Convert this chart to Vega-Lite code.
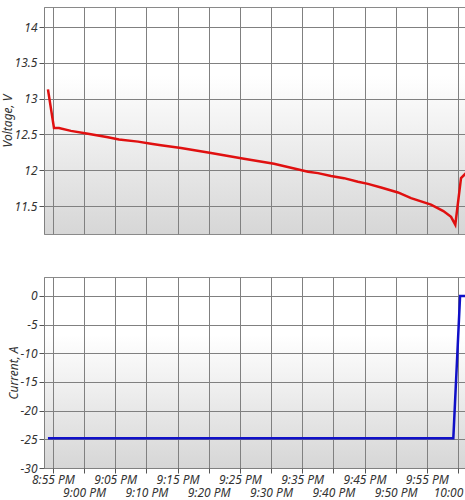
{
  "$schema": "https://vega.github.io/schema/vega-lite/v6.json",
  "padding": {"left": 0, "top": 6, "right": 0, "bottom": 0},
  "background": "#ffffff",
  "spacing": 41,
  "config": {
    "view": {"stroke": "#8a8a8a", "strokeWidth": 1,
      "fill": {"gradient": "linear", "x1": 0, "y1": 0, "x2": 0, "y2": 1,
        "stops": [{"offset": 0, "color": "#ffffff"}, {"offset": 0.3, "color": "#ffffff"}, {"offset": 1, "color": "#d6d6d6"}]}},
    "axis": {
      "labelFont": "Noto Sans", "labelFontStyle": "italic", "labelFontSize": 12, "labelColor": "#333333",
      "titleFont": "Noto Sans", "titleFontStyle": "italic", "titleFontWeight": "normal", "titleFontSize": 12, "titleColor": "#333333",
      "gridColor": "#808080", "gridWidth": 1, "gridOpacity": 1,
      "domainColor": "#808080", "tickColor": "#555555", "tickSize": 5
    }
  },
  "vconcat": [
    {
      "width": 422,
      "height": 227,
      "data": {"values": [
        {"time": "2020-01-01T20:54:12", "v": 13.13},
        {"time": "2020-01-01T20:55:10", "v": 12.59},
        {"time": "2020-01-01T20:55:58", "v": 12.59},
        {"time": "2020-01-01T20:57:53", "v": 12.55},
        {"time": "2020-01-01T21:00:37", "v": 12.51},
        {"time": "2020-01-01T21:03:50", "v": 12.46},
        {"time": "2020-01-01T21:05:36", "v": 12.43},
        {"time": "2020-01-01T21:08:39", "v": 12.40},
        {"time": "2020-01-01T21:10:44", "v": 12.37},
        {"time": "2020-01-01T21:12:20", "v": 12.35},
        {"time": "2020-01-01T21:15:33", "v": 12.31},
        {"time": "2020-01-01T21:20:22", "v": 12.24},
        {"time": "2020-01-01T21:25:39", "v": 12.16},
        {"time": "2020-01-01T21:30:28", "v": 12.09},
        {"time": "2020-01-01T21:35:56", "v": 11.98},
        {"time": "2020-01-01T21:37:32", "v": 11.96},
        {"time": "2020-01-01T21:39:37", "v": 11.92},
        {"time": "2020-01-01T21:41:42", "v": 11.89},
        {"time": "2020-01-01T21:43:57", "v": 11.84},
        {"time": "2020-01-01T21:45:33", "v": 11.81},
        {"time": "2020-01-01T21:47:39", "v": 11.76},
        {"time": "2020-01-01T21:50:22", "v": 11.69},
        {"time": "2020-01-01T21:52:28", "v": 11.61},
        {"time": "2020-01-01T21:55:40", "v": 11.52},
        {"time": "2020-01-01T21:57:39", "v": 11.43},
        {"time": "2020-01-01T21:58:53", "v": 11.35},
        {"time": "2020-01-01T21:59:34", "v": 11.24},
        {"time": "2020-01-01T22:00:29", "v": 11.89},
        {"time": "2020-01-01T22:01:17", "v": 11.96}
      ]},
      "mark": {"type": "line", "color": "#e01010", "strokeWidth": 2.5, "clip": true},
      "encoding": {
        "x": {
          "field": "time", "type": "temporal",
          "scale": {"domain": [
            {"year": 2020, "month": 1, "date": 1, "hours": 20, "minutes": 53, "seconds": 34},
            {"year": 2020, "month": 1, "date": 1, "hours": 22, "minutes": 1, "seconds": 17}
          ], "nice": false},
          "axis": {"title": null, "labels": false, "ticks": false, "domain": false,
            "values": [
              {"year": 2020, "month": 1, "date": 1, "hours": 20, "minutes": 55},
              {"year": 2020, "month": 1, "date": 1, "hours": 21, "minutes": 0},
              {"year": 2020, "month": 1, "date": 1, "hours": 21, "minutes": 5},
              {"year": 2020, "month": 1, "date": 1, "hours": 21, "minutes": 10},
              {"year": 2020, "month": 1, "date": 1, "hours": 21, "minutes": 15},
              {"year": 2020, "month": 1, "date": 1, "hours": 21, "minutes": 20},
              {"year": 2020, "month": 1, "date": 1, "hours": 21, "minutes": 25},
              {"year": 2020, "month": 1, "date": 1, "hours": 21, "minutes": 30},
              {"year": 2020, "month": 1, "date": 1, "hours": 21, "minutes": 35},
              {"year": 2020, "month": 1, "date": 1, "hours": 21, "minutes": 40},
              {"year": 2020, "month": 1, "date": 1, "hours": 21, "minutes": 45},
              {"year": 2020, "month": 1, "date": 1, "hours": 21, "minutes": 50},
              {"year": 2020, "month": 1, "date": 1, "hours": 21, "minutes": 55},
              {"year": 2020, "month": 1, "date": 1, "hours": 22, "minutes": 0}
            ]}
        },
        "y": {
          "field": "v", "type": "quantitative",
          "scale": {"domain": [11.11, 14.28], "nice": false, "zero": false},
          "axis": {"title": "Voltage, V", "values": [11.5, 12, 12.5, 13, 13.5, 14], "labelExpr": "'' + datum.value", "titlePadding": 0}
        }
      }
    },
    {
      "width": 422,
      "height": 191,
      "data": {"values": [
        {"time": "2020-01-01T20:54:12", "a": -24.8},
        {"time": "2020-01-01T21:59:15", "a": -24.8},
        {"time": "2020-01-01T22:00:20", "a": 0},
        {"time": "2020-01-01T22:01:17", "a": 0}
      ]},
      "mark": {"type": "line", "color": "#1010c8", "strokeWidth": 2.5, "clip": true},
      "encoding": {
        "x": {
          "field": "time", "type": "temporal",
          "scale": {"domain": [
            {"year": 2020, "month": 1, "date": 1, "hours": 20, "minutes": 53, "seconds": 34},
            {"year": 2020, "month": 1, "date": 1, "hours": 22, "minutes": 1, "seconds": 17}
          ], "nice": false},
          "axis": {"title": null, "domain": false, "format": "%-I:%M %p",
            "labelOverlap": false, "labelPadding": 1, "labelLineHeight": 13,
            "labelExpr": "minutes(datum.value) % 10 === 5 ? datum.label : ['', datum.label]",
            "values": [
              {"year": 2020, "month": 1, "date": 1, "hours": 20, "minutes": 55},
              {"year": 2020, "month": 1, "date": 1, "hours": 21, "minutes": 0},
              {"year": 2020, "month": 1, "date": 1, "hours": 21, "minutes": 5},
              {"year": 2020, "month": 1, "date": 1, "hours": 21, "minutes": 10},
              {"year": 2020, "month": 1, "date": 1, "hours": 21, "minutes": 15},
              {"year": 2020, "month": 1, "date": 1, "hours": 21, "minutes": 20},
              {"year": 2020, "month": 1, "date": 1, "hours": 21, "minutes": 25},
              {"year": 2020, "month": 1, "date": 1, "hours": 21, "minutes": 30},
              {"year": 2020, "month": 1, "date": 1, "hours": 21, "minutes": 35},
              {"year": 2020, "month": 1, "date": 1, "hours": 21, "minutes": 40},
              {"year": 2020, "month": 1, "date": 1, "hours": 21, "minutes": 45},
              {"year": 2020, "month": 1, "date": 1, "hours": 21, "minutes": 50},
              {"year": 2020, "month": 1, "date": 1, "hours": 21, "minutes": 55},
              {"year": 2020, "month": 1, "date": 1, "hours": 22, "minutes": 0}
            ]}
        },
        "y": {
          "field": "a", "type": "quantitative",
          "scale": {"domain": [-30, 3.3], "nice": false, "zero": false},
          "axis": {"title": "Current, A", "values": [-30, -25, -20, -15, -10, -5, 0], "labelExpr": "'' + datum.value", "titlePadding": 0}
        }
      }
    }
  ]
}
